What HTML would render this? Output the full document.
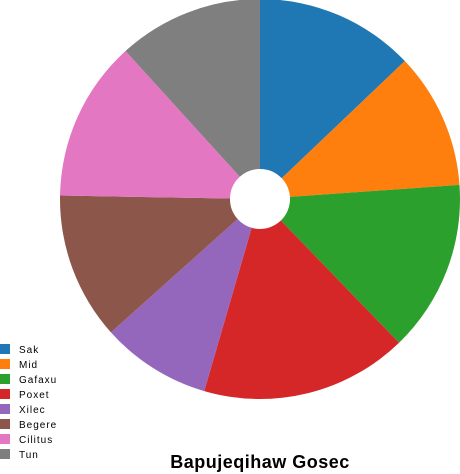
<!DOCTYPE html>
<html><head><meta charset="utf-8"><style>
html,body{margin:0;padding:0;background:#fff;}
svg{display:block;font-family:"Liberation Sans",sans-serif;}
</style></head><body>
<svg id="chart" width="460" height="474">
<g id="slices"></g>
<g id="legend"></g>
<text x="260" y="468" text-anchor="middle" font-size="18" letter-spacing="0.5" font-weight="bold" fill="#000">Bapujeqihaw Gosec</text>
</svg>
<script>
const categories=["Sak","Mid","Gafaxu","Poxet","Xilec","Begere","Cilitus","Tun"];
const values=[12.9,11.0,13.9,16.75,8.9,11.9,13.0,11.75];
const colors=["#1f77b4","#ff7f0e","#2ca02c","#d62728","#9467bd","#8c564b","#e377c2","#7f7f7f"];
const NS="http://www.w3.org/2000/svg";
const cx=260,cy=199,R=200,r=30;
const total=values.reduce((a,b)=>a+b,0);
const sg=document.getElementById('slices');
function pt(a,rad){return [cx+rad*Math.sin(a),cy-rad*Math.cos(a)];}
let acc=0;
values.forEach((v,i)=>{
  const a0=acc/total*2*Math.PI; acc+=v; const a1=acc/total*2*Math.PI;
  const large=(a1-a0)>Math.PI?1:0;
  const p0=pt(a0,R),p1=pt(a1,R),q1=pt(a1,r),q0=pt(a0,r);
  const p=document.createElementNS(NS,'path');
  p.setAttribute('d',`M${p0[0]},${p0[1]}A${R},${R} 0 ${large} 1 ${p1[0]},${p1[1]}L${q1[0]},${q1[1]}A${r},${r} 0 ${large} 0 ${q0[0]},${q0[1]}Z`);
  p.setAttribute('fill',colors[i]);
  
  
  sg.appendChild(p);
});
const lg=document.getElementById('legend');
categories.forEach((c,i)=>{
  const y=344+15*i;
  const rect=document.createElementNS(NS,'rect');
  rect.setAttribute('x',0);rect.setAttribute('y',y);rect.setAttribute('width',10);rect.setAttribute('height',10);
  rect.setAttribute('fill',colors[i]);
  
  
  lg.appendChild(rect);
  const t=document.createElementNS(NS,'text');
  t.setAttribute('x',19);t.setAttribute('y',y+9);
  t.setAttribute('font-size','10');t.setAttribute('letter-spacing','1');
  t.textContent=c;
  
  
  lg.appendChild(t);
});
</script>
</body></html>
